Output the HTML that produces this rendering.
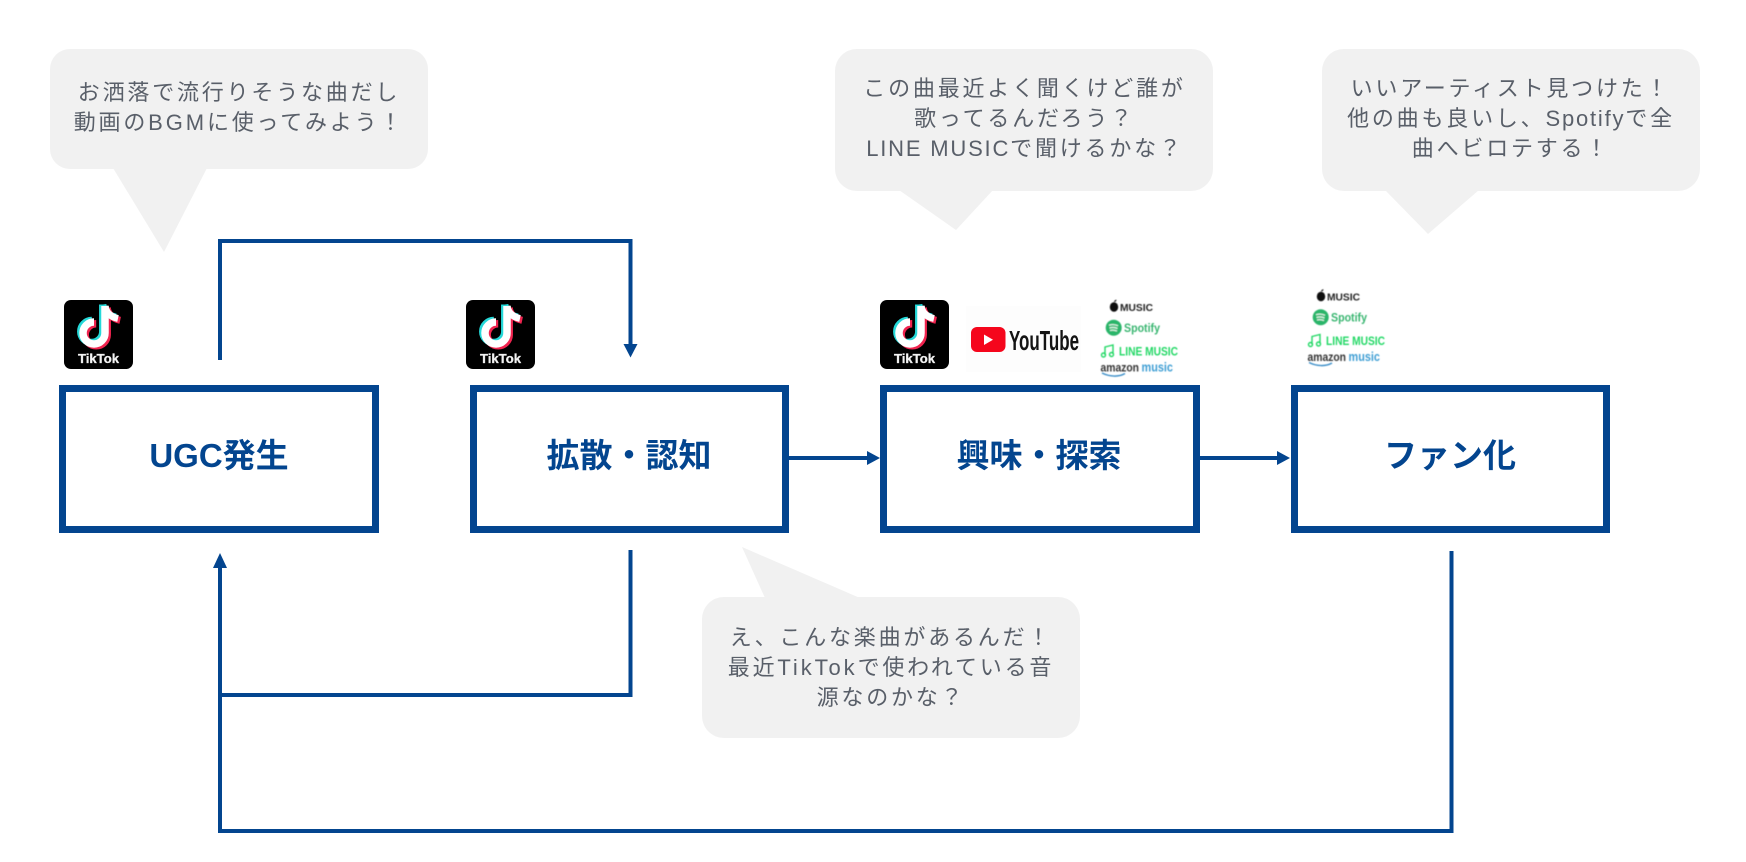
<!DOCTYPE html>
<html lang="ja">
<head>
<meta charset="utf-8">
<style>
html,body{margin:0;padding:0;background:#fff;width:1746px;height:862px;overflow:hidden}
svg{display:block}
.b{font-family:"Liberation Sans","Noto Sans CJK JP",sans-serif;font-size:22px;letter-spacing:2.8px;fill:#595f69;text-anchor:middle}
.b tspan{letter-spacing:1.8px}
.b tspan.w{letter-spacing:2.9px}
.t{font-family:"Liberation Sans","Noto Sans CJK JP",sans-serif;font-size:33px;font-weight:700;fill:#03458f;text-anchor:middle}
.tk{font-family:"Liberation Sans",sans-serif;font-size:12.5px;font-weight:700;fill:#f2f2f2;stroke:#f2f2f2;stroke-width:.3px}
.lg{font-family:"Liberation Sans",sans-serif;font-weight:700}
</style>
</head>
<body>
<svg width="1746" height="862" viewBox="0 0 1746 862" xmlns="http://www.w3.org/2000/svg">
<defs>
<g id="note" fill="none" stroke-linecap="butt">
<path d="M41 6V33a11 11 0 1 1-11-11" stroke-width="7.500"/>
<path d="M41 6c1 7 6 11 13 12.500" stroke-width="7"/>
</g>
<g id="tt">
<rect width="69" height="69" rx="7" fill="#000"/>
<use href="#note" x="-2.200" y="-1.500" stroke="#25d8d8"/>
<use href="#note" x="2.200" y="1.800" stroke="#f0244f"/>
<use href="#note" stroke="#fff"/>
</g>
<filter id="sf" x="-5%" y="-5%" width="110%" height="110%"><feGaussianBlur stdDeviation="0.4"/></filter>
<g id="logos" filter="url(#sf)">
<ellipse cx="4" cy="7" rx="4.200" ry="4.800" fill="#111"/>
<path d="M4 2c0-1 1-2 2.500-2.200C6.500 1 5.500 2 4 2z" fill="#111"/>
<text class="lg" x="10" y="11" font-size="10.500" fill="#222" textLength="33" lengthAdjust="spacingAndGlyphs">MUSIC</text>
<circle cx="3.700" cy="27.700" r="8" fill="#2cb56a"/>
<path d="M-1 25.300c3-1 6-1 9 .5M-.5 28c3-1 5.500-.7 8 .5M0 30.500c2.500-.7 4.500-.5 7 .5" stroke="#dff5e8" stroke-width="1.300" fill="none"/>
<text class="lg" x="14" y="32" font-size="12" fill="#38b56f" textLength="36" lengthAdjust="spacingAndGlyphs">Spotify</text>
<path d="M-5 55V47l8-2v9" fill="none" stroke="#22d865" stroke-width="1.400"/>
<circle cx="-6.500" cy="55" r="2" fill="none" stroke="#22d865" stroke-width="1.400"/>
<circle cx="1.500" cy="54.500" r="2" fill="none" stroke="#22d865" stroke-width="1.400"/>
<text class="lg" x="9" y="55.500" font-size="12" fill="#22d865" textLength="59" lengthAdjust="spacingAndGlyphs">LINE MUSIC</text>
<text class="lg" x="-9.500" y="71.500" font-size="12" fill="#333" textLength="38.500" lengthAdjust="spacingAndGlyphs">amazon</text>
<text class="lg" x="31.500" y="71.500" font-size="13" fill="#3f9fd4" textLength="31.500" lengthAdjust="spacingAndGlyphs">music</text>
<path d="M-8 73c8 4 17 4 23 .5" fill="none" stroke="#3c8fc8" stroke-width="1.500"/>
</g>
</defs>

<!-- bubbles -->
<g fill="#f1f1f1">
<rect x="50" y="49" width="378" height="120" rx="20"/>
<path d="M113 168L164 252L207 168z"/>
<rect x="835" y="49" width="378" height="142" rx="22"/>
<path d="M899 190L956 230L993 190z"/>
<rect x="1322" y="49" width="378" height="142" rx="22"/>
<path d="M1385 190L1428 234L1479 190z"/>
<rect x="702" y="597" width="378" height="141" rx="22"/>
<path d="M765 598L742 547L860 598z"/>
</g>

<text class="b" x="239" y="100">お洒落で流行りそうな曲だし</text>
<text class="b" x="239" y="130">動画の<tspan class="w">BGM</tspan>に使ってみよう！</text>

<text class="b" x="1024.500" y="96">この曲最近よく聞くけど誰が</text>
<text class="b" x="1024.500" y="126">歌ってるんだろう？</text>
<text class="b" x="1025" y="156"><tspan>LINE MUSIC</tspan>で聞けるかな？</text>

<text class="b" x="1510.500" y="96">いいアーティスト見つけた！</text>
<text class="b" x="1511" y="126">他の曲も良いし、<tspan>Spotify</tspan>で全</text>
<text class="b" x="1511" y="156">曲へビロテする！</text>

<text class="b" x="891" y="645">え、こんな楽曲があるんだ！</text>
<text class="b" x="891" y="675">最近<tspan class="w">TikTok</tspan>で使われている音</text>
<text class="b" x="891" y="705">源なのかな？</text>

<!-- boxes -->
<g fill="#fff" stroke="#03458f" stroke-width="7">
<rect x="62.500" y="388.500" width="313" height="141"/>
<rect x="473.500" y="388.500" width="312" height="141"/>
<rect x="883.500" y="388.500" width="313" height="141"/>
<rect x="1294.500" y="388.500" width="312" height="141"/>
</g>
<text class="t" x="219" y="467">UGC発生</text>
<text class="t" x="629" y="467">拡散・認知</text>
<text class="t" x="1039" y="467">興味・探索</text>
<text class="t" x="1450" y="467">ファン化</text>

<!-- connectors -->
<g fill="none" stroke="#03458f" stroke-width="4">
<path d="M220 360V241H630.500V345"/>
<path d="M789 458H868"/>
<path d="M1200 458H1278"/>
<path d="M630.500 550V695H220"/>
<path d="M1451.500 551V831H220V566"/>
</g>
<g fill="#03458f">
<path d="M623.500 344H637.500L630.500 357.500z"/>
<path d="M867 451V465L880 458z"/>
<path d="M1277 451V465L1290 458z"/>
<path d="M213 568H227L220 553z"/>
</g>

<!-- icons -->
<g transform="translate(64 300)"><use href="#tt"/><text class="tk" x="14" y="63" textLength="41" lengthAdjust="spacingAndGlyphs">TikTok</text></g>
<g transform="translate(466 300)"><use href="#tt"/><text class="tk" x="14" y="63" textLength="41" lengthAdjust="spacingAndGlyphs">TikTok</text></g>
<g transform="translate(880 300)"><use href="#tt"/><text class="tk" x="14" y="63" textLength="41" lengthAdjust="spacingAndGlyphs">TikTok</text></g>

<!-- YouTube -->
<rect x="966" y="306" width="115" height="66" fill="#fdfdfd"/>
<rect x="971" y="327" width="34.500" height="25" rx="6" fill="#f5061c"/>
<path d="M984 334.500V345L993 339.700z" fill="#fff"/>
<text x="1009" y="350" font-family="Liberation Sans,sans-serif" font-weight="700" font-size="28" fill="#141414" textLength="70" lengthAdjust="spacingAndGlyphs">YouTube</text>

<!-- music logos -->
<use href="#logos" x="1110" y="300"/>
<use href="#logos" x="1317" y="289.500"/>
</svg>
</body>
</html>
